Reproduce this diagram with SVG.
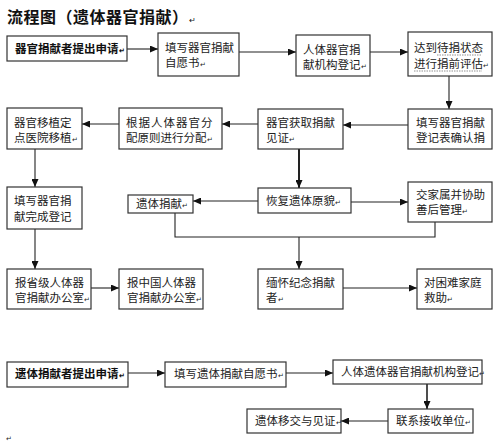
<svg xmlns="http://www.w3.org/2000/svg" width="500" height="444" viewBox="0 0 500 444">
<defs>
<marker id="ah" markerWidth="8" markerHeight="7" refX="8" refY="3.5" orient="auto" markerUnits="userSpaceOnUse">
<path d="M0,0 L8,3.5 L0,7 z" fill="#111"/>
</marker>
<style>
.b{fill:#fff;stroke:#333;stroke-width:1.2}
.t{font-family:"Noto Sans CJK SC","Liberation Sans",sans-serif;font-size:11.5px;fill:#222}
.tb{font-family:"Noto Sans CJK SC","Liberation Sans",sans-serif;font-size:11.5px;font-weight:bold;fill:#111}
.r{font-size:7px}
.c{fill:none;stroke:#222;stroke-width:1.1}
.ca{fill:none;stroke:#222;stroke-width:1.1;marker-end:url(#ah)}
.u{stroke:#777;stroke-width:0.8;stroke-dasharray:1.5 1}
</style>
</defs>
<text x="7" y="23" font-family="Noto Sans CJK SC,sans-serif" font-size="16" font-weight="bold" fill="#111" letter-spacing="0.5">流程图（遗体器官捐献）<tspan font-size="8" font-weight="normal">↵</tspan></text>

<g id="connectors">
<line class="ca" x1="127" y1="49" x2="158" y2="49"/>
<line class="ca" x1="239" y1="52" x2="296" y2="52"/>
<line class="ca" x1="370" y1="52" x2="408" y2="52"/>
<line class="ca" x1="449" y1="76" x2="449" y2="109"/>
<line class="ca" x1="408" y1="125" x2="343" y2="125"/>
<line class="ca" x1="258" y1="124" x2="222" y2="124"/>
<line class="ca" x1="119" y1="124" x2="82" y2="124"/>
<line class="ca" x1="35" y1="149" x2="35" y2="187"/>
<line class="ca" x1="299" y1="149" x2="299" y2="188" style="stroke-width:2"/>
<line class="ca" x1="258" y1="201" x2="193" y2="201"/>
<line class="ca" x1="351" y1="202" x2="408" y2="202"/>
<polyline class="c" points="175,213 175,237 435,237 435,222"/>
<line class="ca" x1="299" y1="237" x2="299" y2="269"/>
<line class="ca" x1="35" y1="229" x2="35" y2="269"/>
<line class="ca" x1="91" y1="288" x2="119" y2="288"/>
<line class="ca" x1="343" y1="288" x2="417" y2="288"/>
<line class="ca" x1="128" y1="373" x2="165" y2="373"/>
<line class="ca" x1="286" y1="373" x2="333" y2="373"/>
<line class="ca" x1="427" y1="384" x2="427" y2="409" style="stroke-width:1.6"/>
<line class="ca" x1="388" y1="421" x2="341" y2="421"/>
</g>

<g id="n1"><rect class="b" x="7" y="36" width="120" height="25"/><text class="tb" x="15" y="53">器官捐献者提出申请<tspan class="r">↵</tspan></text></g>
<g id="n2"><rect class="b" x="158" y="33" width="81" height="43"/><text class="t" x="165" y="52">填写器官捐献</text><text class="t" x="165" y="67">自愿书<tspan class="r">↵</tspan></text></g>
<g id="n3"><rect class="b" x="296" y="35" width="74" height="41"/><text class="t" x="303" y="54">人体器官捐</text><text class="t" x="303" y="69">献机构登记<tspan class="r">↵</tspan></text></g>
<g id="n4"><rect class="b" x="408" y="32" width="84" height="44"/><text class="t" x="414" y="52">达到待捐状态</text><text class="t" x="414" y="68">进行捐前评估<tspan class="r">↵</tspan></text><line class="u" x1="437" y1="55" x2="482" y2="55"/><line class="u" x1="414" y1="71" x2="482" y2="71"/></g>
<g id="n5"><rect class="b" x="7" y="108" width="75" height="41"/><text class="t" x="14" y="127">器官移植定</text><text class="t" x="14" y="142">点医院移植<tspan class="r">↵</tspan></text></g>
<g id="n6"><rect class="b" x="119" y="108" width="103" height="41"/><text class="t" x="126" y="127" letter-spacing="1">根据人体器官分</text><text class="t" x="126" y="142">配原则进行分配<tspan class="r">↵</tspan></text></g>
<g id="n7"><rect class="b" x="258" y="109" width="85" height="40"/><text class="t" x="266" y="127">器官获取捐献</text><text class="t" x="266" y="142">见证<tspan class="r">↵</tspan></text></g>
<g id="n8"><rect class="b" x="408" y="109" width="84" height="40"/><text class="t" x="416" y="127">填写器官捐献</text><text class="t" x="416" y="142">登记表确认捐</text></g>
<g id="n9"><rect class="b" x="7" y="187" width="75" height="42"/><text class="t" x="14" y="205">填写器官捐</text><text class="t" x="14" y="221">献完成登记</text></g>
<g id="n10"><rect class="b" x="128" y="195" width="65" height="18"/><text class="t" x="136" y="208">遗体捐献<tspan class="r">↵</tspan></text></g>
<g id="n11"><rect class="b" x="258" y="188" width="93" height="25"/><text class="t" x="266" y="205">恢复遗体原貌<tspan class="r">↵</tspan></text></g>
<g id="n12"><rect class="b" x="408" y="182" width="84" height="40"/><text class="t" x="416" y="199">交家属并协助</text><text class="t" x="416" y="214">善后管理<tspan class="r">↵</tspan></text></g>
<g id="n13"><rect class="b" x="7" y="269" width="84" height="40"/><text class="t" x="15" y="287">报省级人体器</text><text class="t" x="15" y="302">官捐献办公室<tspan class="r">↵</tspan></text></g>
<g id="n14"><rect class="b" x="119" y="269" width="84" height="40"/><text class="t" x="127" y="287">报中国人体器</text><text class="t" x="127" y="302">官捐献办公室<tspan class="r">↵</tspan></text></g>
<g id="n15"><rect class="b" x="258" y="269" width="85" height="40"/><text class="t" x="266" y="287">缅怀纪念捐献</text><text class="t" x="266" y="302">者<tspan class="r">↵</tspan></text></g>
<g id="n16"><rect class="b" x="417" y="269" width="75" height="40"/><text class="t" x="424" y="287">对困难家庭</text><text class="t" x="424" y="302">救助<tspan class="r">↵</tspan></text></g>
<g id="n17"><rect class="b" x="7" y="362" width="121" height="25"/><text class="tb" x="15" y="378">遗体捐献者提出申请<tspan class="r">↵</tspan></text></g>
<g id="n18"><rect class="b" x="165" y="362" width="121" height="25"/><text class="t" x="174" y="378">填写遗体捐献自愿书<tspan class="r">↵</tspan></text></g>
<g id="n19"><rect class="b" x="333" y="360" width="149" height="24"/><text class="t" x="341" y="376">人体遗体器官捐献机构登记<tspan class="r">↵</tspan></text></g>
<g id="n20"><rect class="b" x="388" y="409" width="85" height="24"/><text class="t" x="396" y="425">联系接收单位<tspan class="r">↵</tspan></text></g>
<g id="n21"><rect class="b" x="247" y="409" width="94" height="24"/><text class="t" x="255" y="425">遗体移交与见证<tspan class="r">↵</tspan></text></g>
<text x="6" y="441" font-family="Noto Sans CJK SC,sans-serif" font-size="7" fill="#222">↵</text>
</svg>
